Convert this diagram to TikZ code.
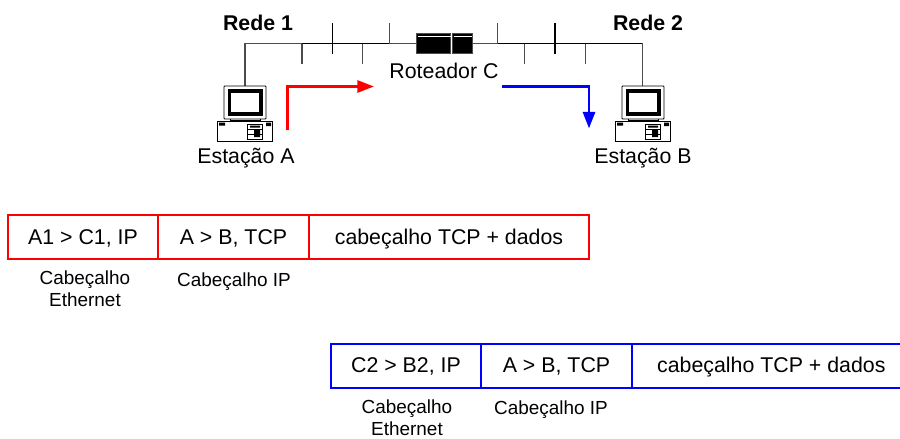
\documentclass[tikz,border=0pt]{standalone}
\usepackage{fontspec}
\setmainfont{Liberation Sans}
\usetikzlibrary{arrows.meta}
\usetikzlibrary{positioning}
\tikzset{
    campo/.style = {draw, line width=1.5pt, outer sep=0pt, minimum height=33pt, inner sep=0pt, text height=12.5pt, text depth=2pt, font=\fontsize{16}{19}\selectfont},
    rotulo/.style = {align=center, inner sep=0pt, font=\fontsize{14.2}{16.5}\selectfont},
    nome/.style = {inner sep=0pt, font=\fontsize{16}{19}\selectfont},
    rede/.style = {inner sep=0pt, font=\fontsize{16}{19}\selectfont\bfseries},
    fio/.style = {line width=1pt, black!70},
    seta/.style = {line width=2.2pt, -{Triangle[length=12.5pt, width=9pt]}},
    estacao/.pic = {
        \draw[line width=.7pt, fill=white, rounded corners=.5pt] (-21,0) rectangle (21,33);
        \draw[line width=2.6pt] (-15.5,5) rectangle (16,28);
        \draw[line width=.6pt] (-15,33) -- (-15,35) (15,33) -- (15,35) (-15,34) -- (15,34);
        \draw[line width=.7pt] (-27.5,35) rectangle (27,55);
        \draw[line width=.6pt] (2,38) rectangle (17,53) (2,43) -- (17,43) (2,48) -- (17,48);
        \fill (5,39.5) rectangle (15,41.5) (9,44) rectangle (15,51);
        \fill (-26,36.5) rectangle (-20,39.5) (21,36.5) rectangle (26,40);
    }
}
\begin{document}
\begin{tikzpicture}[x=.75pt, y=-.75pt]
    \useasboundingbox (0,0) rectangle (900,439);

    % rede
    \node[fill=black, draw=black!70, line width=.5pt, minimum width=25.5pt, minimum height=15pt, inner sep=0pt, outer sep=0pt] (routerL) at (433.5,43.5) {};
    \node[fill=black, draw=black!70, line width=.5pt, minimum width=15pt, minimum height=15pt, inner sep=0pt, outer sep=0pt, right=1.5pt of routerL] (routerR) {};
    \coordinate (pcA) at (245,86);
    \coordinate (pcB) at (642.7,86);
    \coordinate (cantoA) at (245,43.5);
    \coordinate (cantoB) at (642.7,43.5);
    \draw[fio] (pcA) -- (cantoA) -- (routerL);
    \draw[fio] (routerR) -- (cantoB) -- (pcB);
    \draw[line width=1pt] (302,43.5) -- (389,43.5) (498,43.5) -- (642,43.5);
    \foreach \x in {302,362.7,524.7,585.7}
        \draw[fio] (\x,43.5) -- (\x,64);
    \foreach \x in {389.3,497.7}
        \draw[fio] (\x,23) -- (\x,43.5);
    \foreach \x in {332.3,555}
        \draw[fio, black] (\x,23) -- (\x,53.7);
    \draw[white, line width=.7pt] (routerL.north west) ++(1,2.5) -- ++(33,0);
    \draw[white, line width=.7pt] (routerR.north west) ++(1,2.5) -- ++(18,0);

    \pic at (245,86) {estacao};
    \pic at (643,86) {estacao};

    \node[rede] (rede1) at (258,23) {Rede 1};
    \node[rede] (rede2) at (648,23) {Rede 2};
    \node[nome] (routerC) at (444,70.5) {Roteador C};
    \node[nome] (estA) at (246,158.5) {Estação A};
    \node[nome] (estB) at (643,158.5) {Estação B};

    % setas
    \coordinate (redeIni) at (287.5,130);
    \coordinate (redeCanto) at (287.5,86.5);
    \coordinate (redeFim) at (374,86.5);
    \coordinate (azulIni) at (502,86.5);
    \coordinate (azulCanto) at (589,86.5);
    \coordinate (azulFim) at (589,128.5);
    \draw[seta, red] (redeIni) -- (redeCanto) -- (redeFim);
    \draw[seta, blue] (azulIni) -- (azulCanto) -- (azulFim);

    % quadros
    \begin{scope}[node distance=0pt, every node/.append style={anchor=west}]
        \node[campo, draw=red, minimum width=112.5pt] (ether1) at (8,237) {A1 > C1, IP};
        \node[campo, draw=red, minimum width=113.25pt, right=of ether1] (ip1) {A > B, TCP};
        \node[campo, draw=red, minimum width=210pt, right=of ip1] (tcp1) {cabeçalho TCP + dados};
        \node[campo, draw=blue, minimum width=112.5pt] (ether2) at (331,365.5) {C2 > B2, IP};
        \node[campo, draw=blue, minimum width=113.25pt, right=of ether2] (ip2) {A > B, TCP};
        \node[campo, draw=blue, minimum width=209pt, right=of ip2] (tcp2) {cabeçalho TCP + dados};
    \end{scope}

    \node[rotulo] (lbEther1) at (85,288.5) {Cabeçalho\\Ethernet};
    \node[rotulo] (lbIp1) at (234,281.5) {Cabeçalho IP};
    \node[rotulo] (lbEther2) at (407,418) {Cabeçalho\\Ethernet};
    \node[rotulo] (lbIp2) at (551,410) {Cabeçalho IP};
\end{tikzpicture}
\end{document}
